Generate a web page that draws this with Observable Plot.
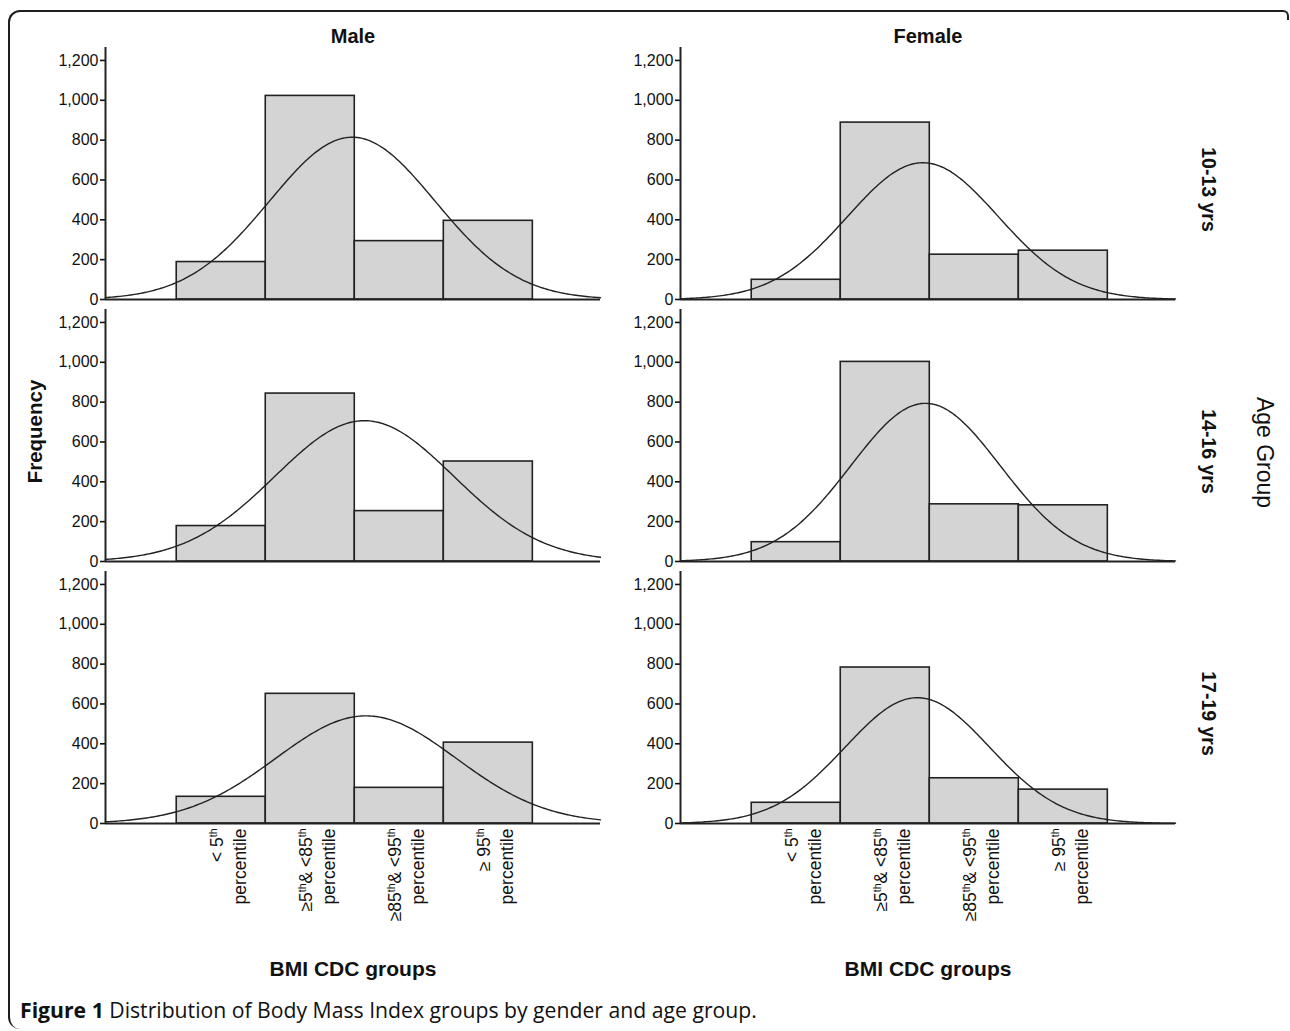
<!DOCTYPE html>
<html><head><meta charset="utf-8">
<script src="https://cdn.jsdelivr.net/npm/d3@7"></script>
<script src="https://cdn.jsdelivr.net/npm/@observablehq/plot@0.6"></script>
<style>
body{margin:0;background:#fff;}
#frame{position:absolute;left:8px;top:10px;width:1281px;height:1019px;border-top:2px solid #1e1e1e;border-left:2px solid #1e1e1e;border-right:2px solid #1e1e1e;border-top-left-radius:12px;border-top-right-radius:6px;border-bottom-left-radius:12px;box-sizing:border-box;}
#frame::after{content:"";position:absolute;right:-3px;top:8px;width:6px;height:1030px;background:#fff;}
#chart{position:absolute;left:0;top:0;}
#caption{position:absolute;left:20px;top:995px;font-family:"Open Sans",sans-serif;font-size:21.2px;color:#111;white-space:nowrap;}
</style></head>
<body>
<div id="frame"></div>
<div id="chart"></div>
<div id="caption"><b>Figure 1</b> Distribution of Body Mass Index groups by gender and age group.</div>
<script>
const sexes = ["Male", "Female"];
const ageGroups = ["10-13 yrs", "14-16 yrs", "17-19 yrs"];
const bmiGroups = ["< 5^th\npercentile", "≥5^th& <85^th\npercentile", "≥85^th& <95^th\npercentile", "≥ 95^th\npercentile"];
const yTicks = [0, 200, 400, 600, 800, 1000, 1200];
// counts per BMI group, one row per age group
const maleCounts = [
  [188, 1022, 293, 395],
  [178, 843, 253, 502],
  [134, 651, 179, 406]
];
const femaleCounts = [
  [99, 888, 225, 245],
  [97, 1002, 287, 282],
  [104, 783, 227, 170]
];
const xDomain = [-0.3, 5.26];

const bars = [];
const curves = [];
sexes.forEach((s, si) => {
  const table = si === 0 ? maleCounts : femaleCounts;
  ageGroups.forEach((a, ai) => {
    const c = table[ai];
    c.forEach((v, k) => bars.push({sex: s, age: a, k: k + 1, count: v}));
    // fitted normal curve (as in the original): from the bars' own counts
    const n = d3.sum(c);
    const mean = d3.sum(c, (v, k) => v * (k + 1)) / n;
    const sd = Math.sqrt(d3.sum(c, (v, k) => v * (k + 1 - mean) ** 2) / (n - 1));
    for (let t = 0; t <= 240; t++) {
      const x = xDomain[0] + (xDomain[1] - xDomain[0]) * t / 240;
      const y = n * Math.exp(-((x - mean) ** 2) / (2 * sd * sd)) / (sd * Math.sqrt(2 * Math.PI));
      curves.push({sex: s, age: a, x, y});
    }
  });
});

const ink = "#222";
const plot = Plot.plot({
  width: 1290,
  height: 990,
  marginLeft: 105,
  marginRight: 115,
  marginTop: 47,
  marginBottom: 167,
  style: {fontFamily: "'Liberation Sans', Arial, sans-serif", color: "#111", background: "transparent", overflow: "visible"},
  fx: {domain: sexes, paddingInner: 80 / 575, paddingOuter: 0, label: null, round: false},
  fy: {domain: ageGroups, paddingInner: 10 / 262, paddingOuter: 0, label: null, axis: null, round: false},
  x: {domain: xDomain, axis: null},
  y: {domain: [0, 1265], axis: null},
  marks: [
    Plot.axisFx({anchor: "top", tickSize: 0, tickPadding: 5, fontSize: 20, fontWeight: "bold", label: null}),
    Plot.axisY({ticks: yTicks, tickFormat: d3.format(","), tickSize: 5, tickPadding: 2, fontSize: 16, strokeWidth: 1.6, facetAnchor: null, label: null}),
    Plot.axisX({ticks: [1, 2, 3, 4], tickFormat: (i) => bmiGroups[i - 1], tickRotate: -90, tickSize: 0, tickPadding: 5, fontSize: 17.5, lineHeight: 1.3, dx: 6, facetAnchor: "bottom", label: null}),
    Plot.rectY(bars, {x1: (d) => d.k - 0.5, x2: (d) => d.k + 0.5, y: "count", fx: "sex", fy: "age", fill: "#d4d4d4", stroke: ink, strokeWidth: 1.6}),
    Plot.line(curves, {x: "x", y: "y", fx: "sex", fy: "age", z: null, stroke: ink, strokeWidth: 1.4}),
    Plot.ruleX([xDomain[0]], {stroke: ink, strokeWidth: 2}),
    Plot.ruleY([0], {stroke: ink, strokeWidth: 2}),
    Plot.text(ageGroups, {fx: () => "Female", fy: (d) => d, text: (d) => d, frameAnchor: "right", textAnchor: "middle", dx: 33, dy: 16, rotate: 90, fontSize: 19.5, fontWeight: "bold", fill: "#111"}),
    Plot.text(["Age Group"], {fx: () => "Female", fy: () => "14-16 yrs", text: (d) => d, frameAnchor: "right", textAnchor: "middle", dx: 89, dy: 17, rotate: 90, fontSize: 23, fill: "#111"}),
    Plot.text(["Frequency"], {fx: () => "Male", fy: () => "14-16 yrs", text: (d) => d, frameAnchor: "left", textAnchor: "middle", dx: -70, dy: -4, rotate: -90, fontSize: 20.5, fontWeight: "bold", fill: "#111"}),
    Plot.text(sexes, {fx: (d) => d, fy: () => "17-19 yrs", text: () => "BMI CDC groups", frameAnchor: "bottom", dy: 152, fontSize: 21, fontWeight: "bold", fill: "#111"})
  ]
});

// render "^th" as superscript
function supify(el) {
  for (const node of Array.from(el.childNodes)) {
    if (node.nodeType === 3 && node.nodeValue.includes("^th")) {
      const parts = node.nodeValue.split("^th");
      const frag = document.createDocumentFragment();
      parts.forEach((p, i) => {
        if (i > 0) {
          const t = document.createElementNS("http://www.w3.org/2000/svg", "tspan");
          t.setAttribute("baseline-shift", "super");
          t.setAttribute("font-size", "0.6em");
          t.textContent = "th";
          frag.appendChild(t);
        }
        if (p) frag.appendChild(document.createTextNode(p));
      });
      el.replaceChild(frag, node);
    } else if (node.nodeType === 1) supify(node);
  }
}
plot.querySelectorAll("text").forEach(supify);
document.getElementById("chart").appendChild(plot);
</script>
</body></html>
